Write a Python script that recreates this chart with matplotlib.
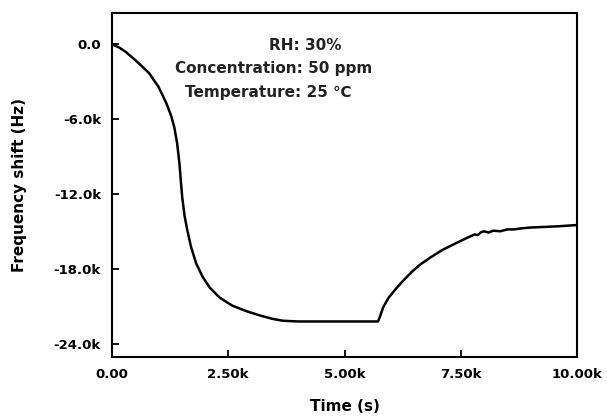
import numpy as np
import matplotlib.pyplot as plt

plt.rcParams["font.family"] = ["DejaVu Sans"]
plt.rcParams["font.weight"] = "bold"

# values
time_s = [0, 150, 300, 430, 600, 800, 1000, 1170, 1270, 1340, 1400, 1450, 1480,
          1510, 1560, 1620, 1700, 1810, 1950, 2100, 2310, 2590, 2900, 3200, 3450,
          3670, 4000, 4500, 5000, 5400, 5720, 5760, 5830, 5950, 6130, 6300, 6480,
          6650, 6850, 7100, 7430, 7650, 7800, 7870, 7930, 8000, 8100, 8200, 8350,
          8500, 8650, 8790, 9000, 9300, 9600, 10000]
shift_hz = [0, -250, -620, -1040, -1600, -2320, -3400, -4720, -5700, -6640, -7900,
            -9520, -10900, -12240, -13700, -14880, -16200, -17520, -18600, -19440,
            -20240, -20900, -21350, -21700, -21950, -22100, -22160, -22160, -22160,
            -22160, -22160, -21800, -21040, -20250, -19440, -18750, -18080, -17550,
            -17040, -16450, -15840, -15450, -15200, -15250, -15040, -14950, -15050,
            -14900, -14950, -14800, -14800, -14720, -14650, -14600, -14550, -14450]

notes = ["RH: 30%", "Concentration: 50 ppm", "Temperature: 25 \u2103"]
note_x = [4150, 3480, 3360]
note_y = [-80, -1920, -3840]

fig = plt.figure(figsize=(6.07, 4.17), dpi=100)
ax = fig.add_axes([112 / 607, 1 - 357 / 417, 465 / 607, 344 / 417])

ax.plot(time_s, shift_hz, color="black", lw=1.8)

for t, x, y in zip(notes, note_x, note_y):
    ax.text(x, y, t, ha="center", va="center", fontsize=11, fontweight="bold",
            color="#222222")

ax.set_xlim(0, 10000)
ax.set_ylim(-25000, 2500)
ax.set_xticks([0, 2500, 5000, 7500, 10000])
ax.set_xticklabels(["0.00", "2.50k", "5.00k", "7.50k", "10.00k"])
ax.set_yticks([0, -6000, -12000, -18000, -24000])
ax.set_yticklabels(["0.0", "-6.0k", "-12.0k", "-18.0k", "-24.0k"])
ax.tick_params(direction="in", length=5, width=1.3, labelsize=9.5, pad=8)
for s in ax.spines.values():
    s.set_linewidth(1.5)

ax.set_xlabel("Time (s)", fontsize=11, fontweight="bold", labelpad=13)
ax.set_ylabel("Frequency shift (Hz)", fontsize=11, fontweight="bold", labelpad=19)

fig.savefig("out.png", dpi=100)
